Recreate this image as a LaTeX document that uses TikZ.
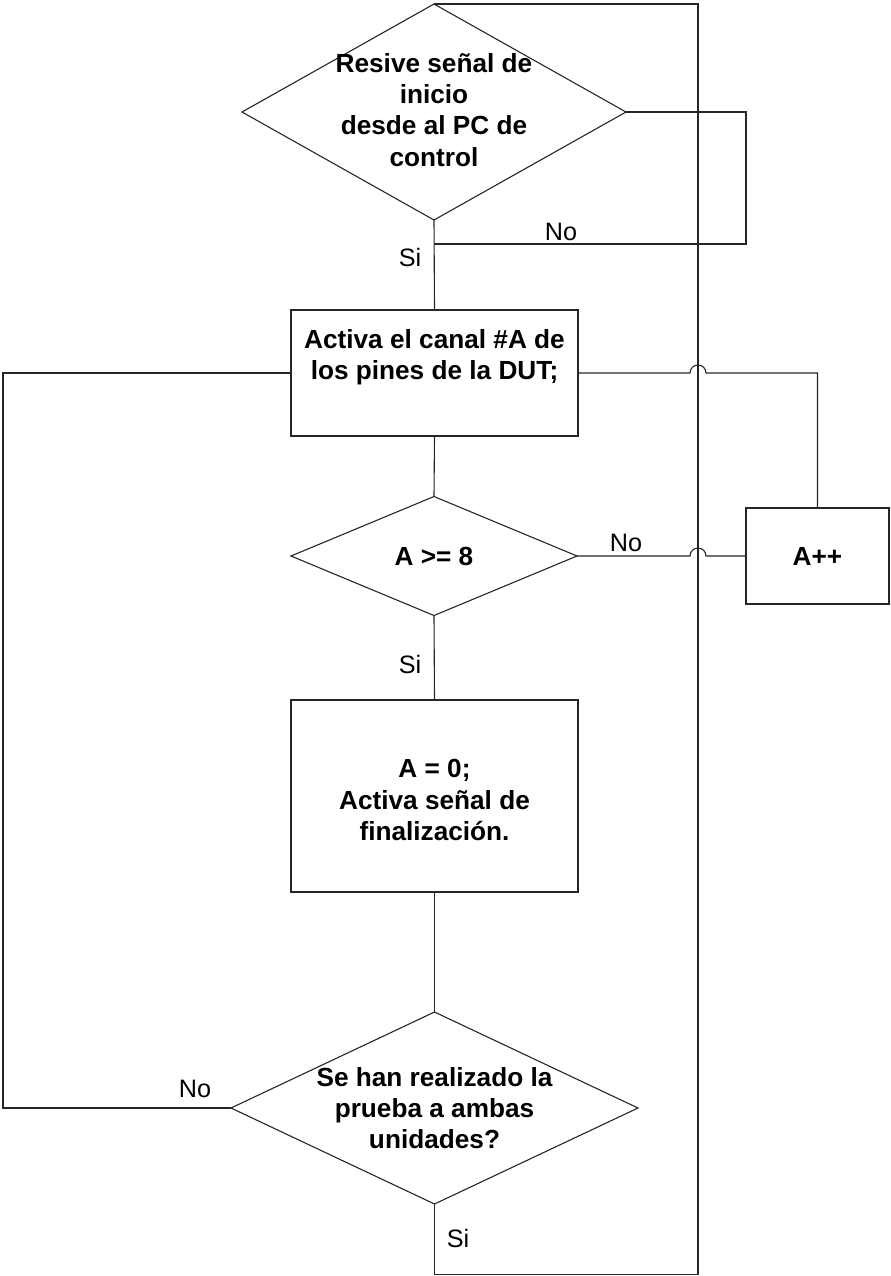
\documentclass[tikz,border=0pt]{standalone}
\usepackage{fontspec}
\setmainfont{Liberation Sans}
\usetikzlibrary{shapes.geometric}
\begin{document}
\begin{tikzpicture}[x=0.5pt,y=-0.5pt,
  line width=0.55pt,
  link/.style={draw=black!85},
  decision/.style={draw=black!85,shape=diamond,inner sep=0pt,outer sep=0pt},
  process/.style={draw=black!85,shape=rectangle,inner sep=0pt,outer sep=0pt},
  boxtext/.style={font=\fontsize{13.1}{15.6}\selectfont\bfseries,align=center,inner sep=0pt},
  branch/.style={font=\fontsize{12.6}{15.6}\selectfont,inner sep=0pt}]
\useasboundingbox (0,0) rectangle (890,1276);

% shapes
\node[decision,minimum width=192pt,minimum height=108pt] (d1) at (434,112) {};
\node[process,minimum width=143.5pt,minimum height=63pt] (b1) at (434.5,373) {};
\node[decision,minimum width=143pt,minimum height=59.5pt] (d2) at (434,556) {};
\node[process,minimum width=143.5pt,minimum height=96pt] (b2) at (434.5,796) {};
\node[decision,minimum width=203.5pt,minimum height=96pt] (d3) at (434.5,1108) {};
\node[process,minimum width=71.5pt,minimum height=48pt] (inc) at (817.5,556) {};

% texts
\node[boxtext] (t1) at (434,110) {Resive señal de\\inicio\\desde al PC de\\control};
\node[boxtext] (t2) at (434.5,357) {Activa el canal \#A de\\los pines de la DUT;};
\node[boxtext] (t3) at (434,556) {A >= 8};
\node[boxtext] (t4) at (434.5,800) {A = 0;\\Activa señal de\\finalización.};
\node[boxtext] (t5) at (434.5,1108) {Se han realizado la\\prueba a ambas\\unidades?};
\node[boxtext] (t6) at (817.5,556) {A++};

% branch labels
\node[branch] (l1) at (561,232) {No};
\node[branch] (l2) at (410,257) {Si};
\node[branch] (l3) at (626,543) {No};
\node[branch] (l4) at (410,664) {Si};
\node[branch] (l5) at (195,1089) {No};
\node[branch] (l6) at (458,1238) {Si};

% auxiliary corner points
\coordinate (nojoin) at (434,244);
\coordinate (loopx) at (746,112);
\coordinate (leftx) at (3,373);
\coordinate (botl) at (434.5,1274.5);
\coordinate (topr) at (698,4);

% main flow
\draw[link] (d1.south) -- (b1.north);
\draw[link] (b1.south) -- (d2.north);
\draw[link] (d2.south) -- (b2.north);
\draw[link] (b2.south) -- (d3.north);

% wait loop on the start signal
\draw[link] (d1.east) -- (loopx) |- (nojoin);

% return from the last test to the start
\draw[link] (d3.south) -- (botl) -| (topr) -- (d1.north);

% repeat for the second unit
\draw[link] (b1.west) -- (leftx) |- (d3.west);

% channel increment loop, hopping over the return line
\draw[link] (b1.east) -- (690,373) arc[start angle=180,end angle=0,radius=4pt] -| (inc.north);
\draw[link] (d2.east) -- (690,556) arc[start angle=180,end angle=0,radius=4pt] -- (inc.west);
\end{tikzpicture}
\end{document}
